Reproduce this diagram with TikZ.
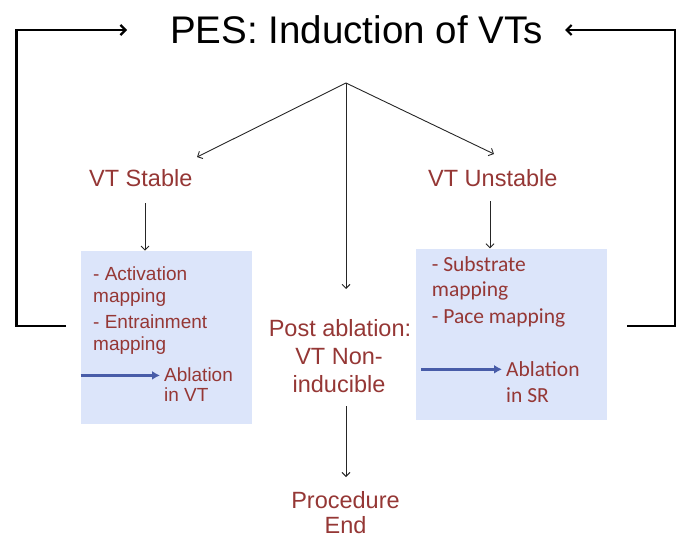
\documentclass[tikz,border=0pt]{standalone}
\usepackage{fontspec}
\setmainfont{Liberation Sans}
\newfontfamily\calfont{Carlito}
\usetikzlibrary{arrows.meta}
\definecolor{txtred}{RGB}{149,55,53}
\definecolor{boxfill}{RGB}{220,229,250}
\definecolor{arrblue}{RGB}{72,92,168}
\begin{document}
\begin{tikzpicture}[x=1pt,y=-1pt,
  redtxt/.style={inner sep=0pt, text=txtred, font=\fontsize{23.5}{28}\selectfont},
  smalltxt/.style={inner sep=0pt, text=txtred, font=\fontsize{19}{22}\selectfont},
  caltxt/.style={inner sep=0pt, text=txtred, font=\calfont\fontsize{21.5}{26}\selectfont},
  bluebox/.style={fill=boxfill, draw=none, inner sep=0pt, anchor=north west},
  thinarrow/.style={draw=black!85, line width=0.9pt, -{Straight Barb[length=4pt,width=8pt]}},
  looparrow/.style={draw=black, line width=2.8pt, -{Straight Barb[length=5pt,width=10pt,line width=2.2pt]}},
  bluearrow/.style={draw=arrblue, line width=2.4pt, -{Latex[length=8pt,width=9pt]}, shorten >=4pt}
]
\useasboundingbox (0,0) rectangle (681,538);
% boxes
\node[bluebox, minimum width=171pt, minimum height=172.6pt] (lbox) at (80.7,250.7) {};
\node[bluebox, minimum width=190.7pt, minimum height=171.7pt] (rbox) at (416,248.3) {};
% title
\node[inner sep=0pt, anchor=base, font=\fontsize{38.5}{40}\selectfont] (title) at (356.5,43) {PES: Induction of VTs};
% second level
\node[redtxt, anchor=base west] (vts) at (89,186.7) {VT Stable};
\node[redtxt, anchor=base west] (vtu) at (428,186.7) {VT Unstable};
% left box text
\node[smalltxt, anchor=base west] (l1) at (93,280.7) {- Activation};
\node[smalltxt, anchor=base west] (l2) at (93,302.7) {mapping};
\node[smalltxt, anchor=base west] (l3) at (93,328.7) {- Entrainment};
\node[smalltxt, anchor=base west] (l4) at (93,350.7) {mapping};
\node[smalltxt, anchor=base west] (abl) at (164,381.7) {Ablation};
\node[smalltxt, anchor=base west] (abl2) at (164,401.7) {in VT};
% right box text
\node[caltxt, anchor=base west] (r1) at (431.7,271.7) {- Substrate};
\node[caltxt, anchor=base west] (r2) at (431.7,296.7) {mapping};
\node[caltxt, anchor=base west] (r3) at (431.7,323.3) {- Pace mapping};
\node[caltxt, anchor=base west] (abr) at (506,376.7) {Ablation};
\node[caltxt, anchor=base west] (abr2) at (506,402.7) {in SR};
% centre
\node[redtxt, anchor=base] (p1) at (340,336.7) {Post ablation:};
\node[redtxt, anchor=base] (p2) at (339,364.5) {VT Non-};
\node[redtxt, anchor=base] (p3) at (339,392.5) {inducible};
\node[redtxt, anchor=base] (e1) at (345.5,508) {Procedure};
\node[redtxt, anchor=base] (e2) at (345.5,533.5) {End};
% coordinates
\coordinate (fork) at (346,83);
\coordinate (lstab) at (197,157);
\coordinate (rstab) at (494,154);
\coordinate (pa) at (346,289);
\coordinate (la) at (127,30);
\coordinate (ra) at (565,30);
\coordinate (lend) at (66,326);
\coordinate (rend) at (627,326);
% connectors
\draw[thinarrow] (fork) -- (lstab);
\draw[thinarrow] (fork) -- (rstab);
\draw[thinarrow] (fork) -- (pa);
\draw[thinarrow] (145,203) -- (lbox.north -| 145,0);
\draw[thinarrow] (490,201) -- (rbox.north -| 490,0);
\draw[thinarrow] (346,406) -- (346,477);
\draw[looparrow] (lend) -- (16.7,326) -- (16.7,30) -- (la);
\draw[looparrow] (rend) -- (675,326) -- (675,30) -- (ra);
\draw[bluearrow] ([yshift=-0.5pt]lbox.west |- abl.west) -- ([yshift=-0.5pt]abl.west);
\draw[bluearrow] ([xshift=5pt]rbox.west |- abr.west) -- (abr.west);
\end{tikzpicture}
\end{document}
